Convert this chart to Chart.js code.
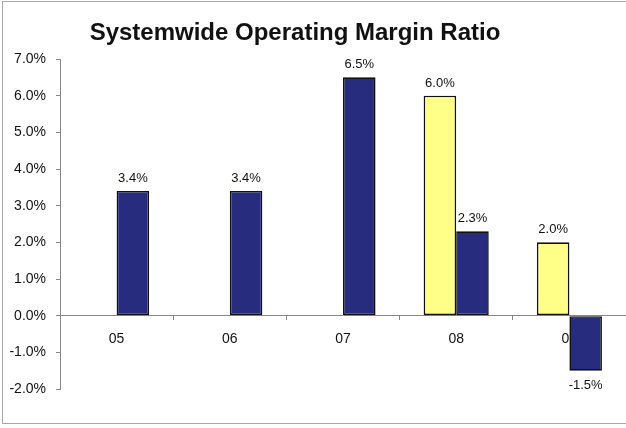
<!DOCTYPE html>
<html>
<head>
<meta charset="utf-8">
<script src="https://cdn.jsdelivr.net/npm/chart.js@4.4.1/dist/chart.umd.min.js"></script>
<style>
  html, body { margin: 0; padding: 0; background: #fff; overflow: hidden; }
  #wrap { position: relative; width: 626px; height: 428px; }
  #title { position: absolute; left: 0; top: 20px; width: 590px; text-align: center;
           font: bold 24px "Liberation Sans", Arial, sans-serif; line-height: 24px; color: #111; }
  #frame { position: absolute; left: 2px; top: 1px; width: 640px; height: 423px;
           border: 1px solid #a8a8a8; box-sizing: border-box; pointer-events: none; }
  canvas { position: absolute; left: 0; top: 0; }
</style>
</head>
<body>
<div id="wrap">
  <canvas id="c" width="626" height="428"></canvas>
  <div id="title">Systemwide Operating Margin Ratio</div>
  <div id="frame"></div>
</div>
<script>
const categories = ['05', '06', '07', '08', '09'];
const budgetValues = [null, null, null, 6.0, 2.0];
const actualValues = [3.4, 3.4, 6.5, 2.3, -1.5];
const yMin = -2;
const yMax = 7;
const yStep = 1;

const fontFamily = '"Liberation Sans", Arial, sans-serif';

const valueLabels = {
  id: 'valueLabels',
  afterDatasetsDraw(chart) {
    const ctx = chart.ctx;
    ctx.save();
    ctx.font = '13px ' + fontFamily;
    ctx.fillStyle = '#111';
    ctx.textAlign = 'center';
    ctx.textBaseline = 'middle';
    chart.data.datasets.forEach((ds, i) => {
      const meta = chart.getDatasetMeta(i);
      meta.data.forEach((el, j) => {
        const v = ds.data[j];
        if (v === null || v === undefined) return;
        const txt = v.toFixed(1) + '%';
        if (v >= 0) {
          ctx.fillText(txt, el.x, el.y - 12.5);
        } else {
          ctx.fillText(txt, el.x, el.y + 15);
        }
      });
    });
    ctx.restore();
  }
};

new Chart(document.getElementById('c'), {
  type: 'bar',
  data: {
    labels: categories,
    datasets: [
      {
        label: 'Budget',
        data: budgetValues,
        backgroundColor: '#ffff88',
        borderColor: '#111',
        borderWidth: 1.6,
        borderSkipped: false
      },
      {
        label: 'Actual',
        data: actualValues,
        backgroundColor: '#272c7e',
        borderColor: '#111',
        borderWidth: 1.6,
        borderSkipped: false
      }
    ]
  },
  options: {
    responsive: false,
    animation: false,
    layout: { padding: { top: 59, bottom: 39, left: 0, right: 0 } },
    datasets: { bar: { categoryPercentage: 0.575, barPercentage: 1.0 } },
    plugins: {
      legend: { display: false },
      title: { display: false },
      tooltip: { enabled: false }
    },
    scales: {
      x: {
        position: { y: 0 },
        afterFit(scale) { scale.height = 0; },
        grid: { display: true, drawOnChartArea: false, drawTicks: true, tickLength: 4, color: '#888', offset: true },
        border: { display: true, color: '#888', width: 1 },
        ticks: { color: '#111', padding: 11, font: { family: fontFamily, size: 14 }, maxRotation: 0 }
      },
      y: {
        min: yMin,
        max: yMax,
        afterFit(scale) { scale.width = 60; },
        grid: { display: true, drawOnChartArea: false, drawTicks: true, tickLength: 4, color: '#888' },
        border: { display: true, color: '#888', width: 1 },
        ticks: {
          stepSize: yStep,
          color: '#111',
          padding: 10,
          font: { family: fontFamily, size: 14 },
          callback: (v) => Number(v).toFixed(1) + '%'
        }
      }
    }
  },
  plugins: [valueLabels]
});
</script>
</body>
</html>
